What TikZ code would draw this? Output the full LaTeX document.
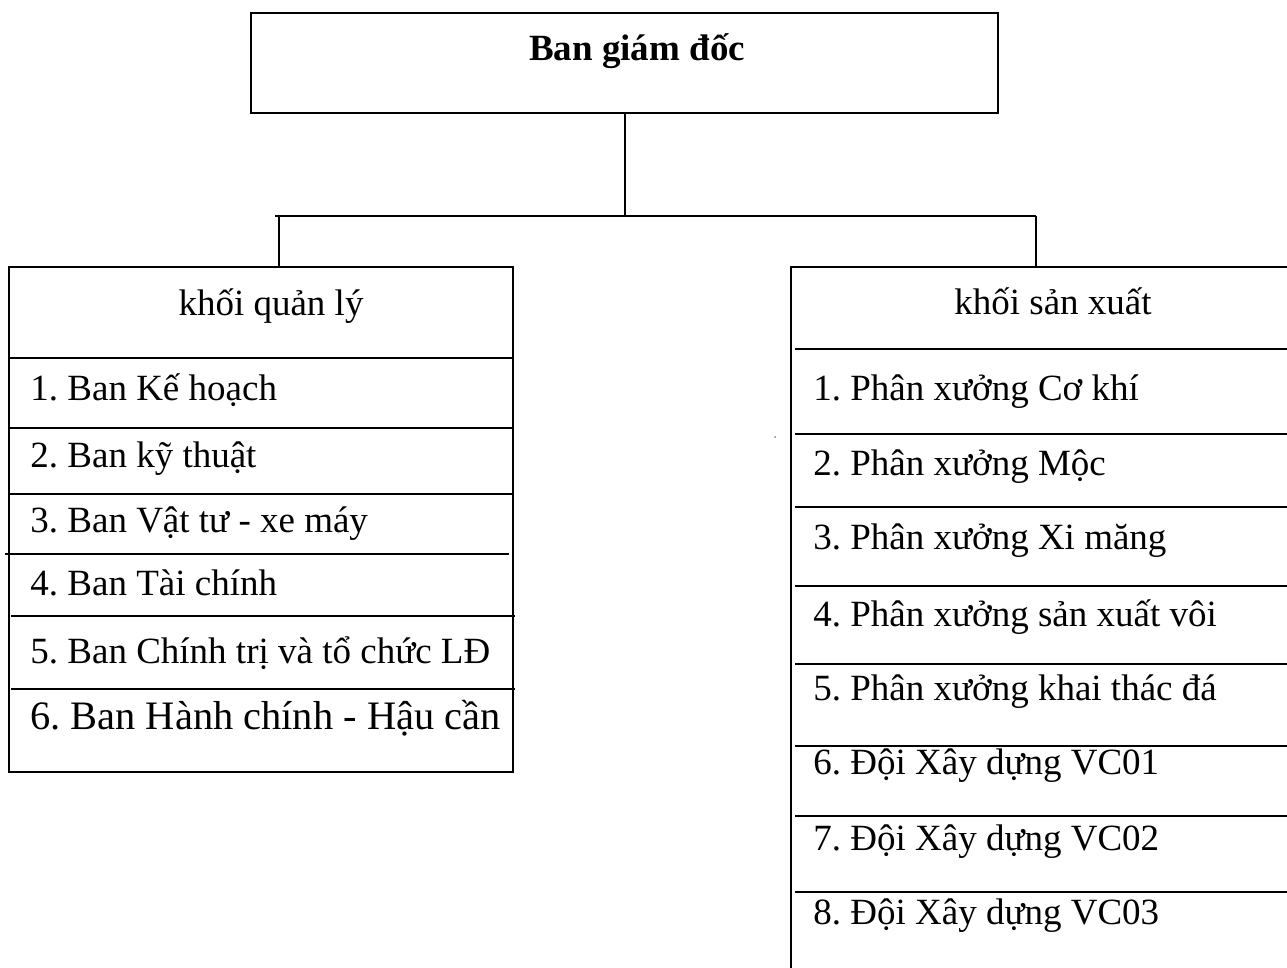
\documentclass[tikz,border=0pt]{standalone}
\usepackage{fontspec}
\setmainfont{Liberation Serif}
\frenchspacing
\begin{document}
\begin{tikzpicture}[x=0.5pt,y=-0.5pt,
  frame/.style={draw=black, line width=1pt, inner sep=0pt},
  link/.style={draw=black, line width=1pt},
  rowline/.style={draw=black, line width=1pt},
  txt/.style={inner sep=0pt, font=\fontsize{18.5}{22}\selectfont},
  item/.style={txt, anchor=base west},
  head/.style={txt, anchor=base},
]
\useasboundingbox (0,0) rectangle (1287,968);
\clip (0,0) rectangle (1287,968);

% --- boxes ---
\node[frame, line width=1.4pt, minimum width=373.5pt, minimum height=50pt] (bgd) at (624.5,63) {};
\node[frame, minimum width=252.25pt, minimum height=252.5pt] (kql) at (260.75,519.5) {};
\node[frame, minimum width=260pt, minimum height=370pt] (ksx) at (1051,637) {};

% --- connectors ---
\coordinate (hub) at (625,216);
\coordinate (lj) at (279,216);
\coordinate (rj) at (1036,216);
\coordinate (lstart) at (275,216);
\draw[link] (bgd.south -| hub) -- (hub);
\draw[link] (lstart) -- (rj);
\draw[link] (lj) -- (lj |- kql.north);
\draw[link] (rj) -- (rj |- ksx.north);

% --- titles ---
\node[head, font=\fontsize{18.5}{22}\selectfont\bfseries] (tbgd) at (637,61) {Ban giám đốc};
\node[head] (tkql) at (271,316) {khối quản lý};
\node[head] (tksx) at (1053,315) {khối sản xuất};

% --- left table rows ---
\draw[rowline] (9,358) -- (513,358);
\draw[rowline] (9,428) -- (513,428);
\draw[rowline] (9,494) -- (513,494);
\draw[rowline] (5,554) -- (509,554);
\draw[rowline] (11,616) -- (515,616);
\draw[rowline] (11,689) -- (515,689);

\node[item] (q1) at (30,401) {1. Ban Kế hoạch};
\node[item] (q2) at (30,468) {2. Ban kỹ thuật};
\node[item] (q3) at (30,533) {3. Ban Vật tư - xe máy};
\node[item] (q4) at (30,596) {4. Ban Tài chính};
\node[item] (q5) at (30,663) {5. Ban Chính trị và tổ chức LĐ};
\node[item, font=\fontsize{20.2}{24}\selectfont] (q6) at (30,729) {6. Ban Hành chính - Hậu cần};

% --- right table rows ---
\foreach \yy in {349,434,507,586,664,746,816,892}
  \draw[rowline] (795,\yy) -- (1290,\yy);

\node[item] (s1) at (813,401) {1. Phân xưởng Cơ khí};
\node[item] (s2) at (813,476) {2. Phân xưởng Mộc};
\node[item] (s3) at (813,550) {3. Phân xưởng Xi măng};
\node[item] (s4) at (813,626) {4. Phân xưởng sản xuất vôi};
\node[item] (s5) at (813,700) {5. Phân xưởng khai thác đá};
\node[item] (s6) at (813,774) {6. Đội Xây dựng VC01};
\node[item] (s7) at (813,850) {7. Đội Xây dựng VC02};
\node[item] (s8) at (813,924) {8. Đội Xây dựng VC03};

% stray mark beside the right table
\coordinate (speck) at (775,437);
\fill[gray] (speck) circle (1);
\end{tikzpicture}
\end{document}
